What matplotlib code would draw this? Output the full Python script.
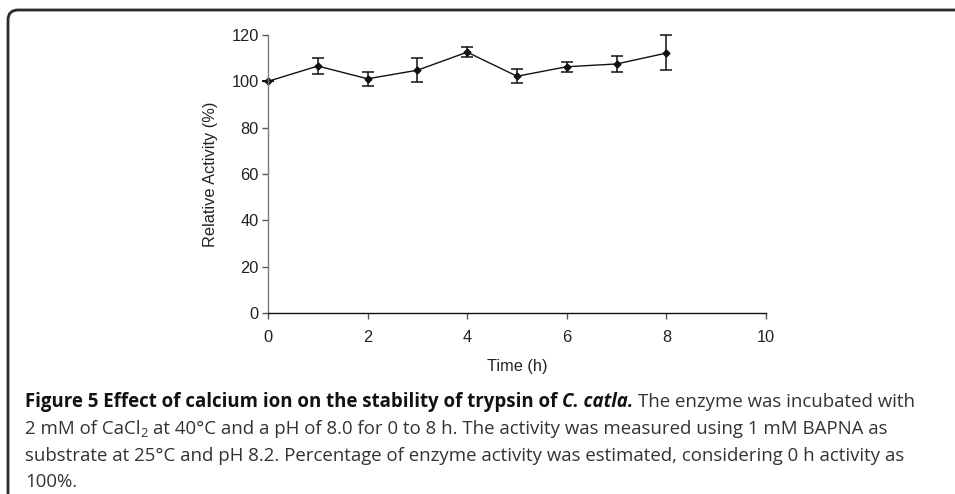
import matplotlib
matplotlib.use("Agg")
import matplotlib.pyplot as plt
from matplotlib.path import Path
from matplotlib.patches import PathPatch

# ---- data ----
time_h = [0, 1, 2, 3, 4, 5, 6, 7, 8]
activity = [100.0, 106.6, 101.1, 104.8, 112.6, 102.2, 106.3, 107.5, 112.2]
err_up = [0.0, 3.3, 3.1, 5.1, 2.1, 3.1, 2.0, 3.4, 7.7]
err_dn = [0.0, 3.3, 3.1, 5.2, 2.2, 3.1, 2.1, 3.3, 7.5]
xticks = [0, 2, 4, 6, 8, 10]
yticks = [0, 20, 40, 60, 80, 100, 120]

W, H = 955, 494
fig = plt.figure(figsize=(W / 100, H / 100), dpi=100)
plt.rcParams['font.family'] = ['Liberation Sans', 'DejaVu Sans']

def px(x, y):
    return x / W, 1 - y / H

l, t = 268, 35
r, b = 766, 313
ax = fig.add_axes([l / W, 1 - b / H, (r - l) / W, (b - t) / H])
ax.errorbar(time_h, activity, yerr=[err_dn, err_up], color='#111111', lw=1.0,
            marker='D', ms=3.5, mfc='#111111', mec='#111111',
            ecolor='#111111', elinewidth=1.1, capsize=4, capthick=1.1, clip_on=False)
ax.set_xlim(0, 10)
ax.set_ylim(0, 120)
ax.set_xticks(xticks)
ax.set_yticks(yticks)
for s in ['top', 'right']:
    ax.spines[s].set_visible(False)
ax.spines['left'].set_color('#7a7a7a')
ax.spines['bottom'].set_color('#111111')
ax.spines['left'].set_linewidth(1.0)
ax.spines['bottom'].set_linewidth(1.0)
afs = 11.8
ax.tick_params(axis='both', direction='out', length=4, width=1.0, colors='#555555',
               labelsize=afs, labelcolor='#222222')
ax.tick_params(axis='x', pad=8)
ax.tick_params(axis='y', pad=2.5)
ax.set_xlabel('Time (h)', fontsize=afs, color='#222222')
ax.set_ylabel('Relative Activity (%)', fontsize=afs, color='#222222')
ax.xaxis.set_label_coords(0.5, -(366 - b) / (b - t), transform=ax.transAxes)
ax.yaxis.set_label_coords(-(l - 211) / (r - l), 0.5, transform=ax.transAxes)
ax.xaxis.label.set_va('center')
ax.yaxis.label.set_va('center')

# ---- border with rounded top-left corner ----
bx, by, rad = 8, 10, 10
verts = [px(bx, H + 5), px(bx, by + rad), px(bx, by), px(bx + rad, by), px(W + 5, by)]
codes = [Path.MOVETO, Path.LINETO, Path.CURVE3, Path.CURVE3, Path.LINETO]
fig.patches.append(PathPatch(Path(verts, codes), transform=fig.transFigure,
                             fill=False, lw=2.0, edgecolor='#2a2a2a'))

# ---- caption ----
cap_font = ['Open Sans', 'DejaVu Sans']
fs = 13.4
renderer = fig.canvas.get_renderer()

def width_of(s, **kw):
    tt = fig.text(0, 0, s, fontsize=kw.get('size', fs), family=cap_font,
                  weight=kw.get('weight', 'normal'), style=kw.get('style', 'normal'))
    w = tt.get_window_extent(renderer).width
    tt.remove()
    return w

def space_w(**kw):
    return width_of('x x', **kw) - width_of('xx', **kw)

def put_line(pieces, x0, ybase):
    x = x0
    for text, kw, lead in pieces:
        if lead:
            x += space_w(**kw)
        size = kw.get('size', fs)
        dy = kw.get('dy', 0)
        tt = fig.text(x / W, 1 - (ybase + dy) / H, text, fontsize=size, family=cap_font,
                      weight=kw.get('weight', 'normal'), style=kw.get('style', 'normal'),
                      color=kw.get('color', '#333333'), va='baseline', ha='left')
        x += tt.get_window_extent(renderer).width

bold = dict(weight='bold', color='#111111')
boldital = dict(weight='bold', style='italic', color='#111111')
reg = dict()
sub = dict(size=fs * 0.7, dy=3)

x0 = 25
put_line([("Figure 5 Effect of calcium ion on the stability of trypsin of", bold, False),
          ("C. catla.", boldital, True),
          ("The enzyme was incubated with", reg, True)], x0, 407)
put_line([("2 mM of CaCl", reg, False), ("2", sub, False),
          ("at 40°C and a pH of 8.0 for 0 to 8 h. The activity was measured using 1 mM BAPNA as", reg, True)],
         x0, 434)
put_line([("substrate at 25°C and pH 8.2. Percentage of enzyme activity was estimated, considering 0 h activity as", reg, False)],
         x0, 461)
put_line([("100%.", reg, False)], x0, 487)

fig.savefig('out.png', dpi=100)
